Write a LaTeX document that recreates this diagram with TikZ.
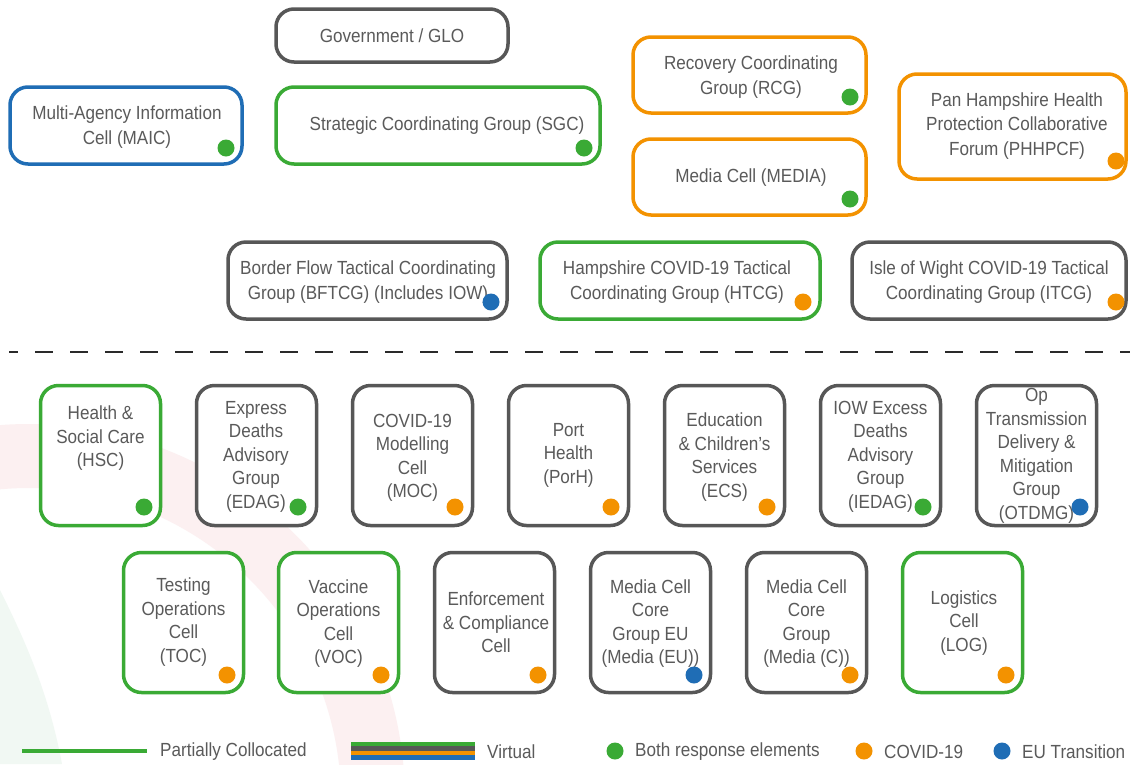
\documentclass[tikz,border=0pt]{standalone}
\usepackage{fontspec}
\setmainfont{Liberation Sans}[FakeStretch=0.9]
\definecolor{cgray}{HTML}{575757}
\definecolor{ctext}{HTML}{5A5A5A}
\definecolor{cgreen}{HTML}{3AAA35}
\definecolor{corange}{HTML}{F39200}
\definecolor{cblue}{HTML}{1F6DB5}
\definecolor{bgpink}{HTML}{FCF0F1}
\definecolor{bggreen}{HTML}{F1F8F3}
\definecolor{cdash}{HTML}{2A2A2A}
\newcommand\bigtext{\fontsize{19}{24.5}\selectfont}
\newcommand\smalltext{\fontsize{19}{23.5}\selectfont}
\tikzset{
  box/.style={draw=#1, line width=3.5pt, rounded corners=18pt, fill=white, inner sep=0pt},
  wide/.style={minimum width=#1, minimum height=77pt},
  cell/.style={minimum width=120pt, minimum height=140pt},
  toptxt/.style={text=ctext, align=center, font=\bigtext, inner sep=0pt},
  celltxt/.style={text=ctext, align=center, font=\smalltext, inner sep=0pt},
  legtxt/.style={text=ctext, font=\bigtext, inner sep=0pt, anchor=west},
  dot/.style={circle, fill=#1, minimum size=17pt, inner sep=0pt},
  divider/.style={draw=cdash, line width=2pt, dash pattern=on 18pt off 17pt, dash phase=9pt},
}
\begin{document}
\begin{tikzpicture}[x=1pt, y=-1pt]
\path[use as bounding box, fill=white] (0,0) rectangle (1130,764);

% faint background arcs
\begin{scope}
  \clip (0,0) rectangle (1130,764);
  \fill[bgpink, even odd rule] (29,800) circle[radius=376pt] (29,800) circle[radius=312pt];
  \fill[bggreen] (0,590) .. controls (30,650) and (50,700) .. (62,764) -- (0,764) -- cycle;
\end{scope}

% ---- strategic level ----
\node[box=cgray, minimum width=232pt, minimum height=53pt] (gov) at (392,35.5) {};
\node[toptxt] (govt) at (392,36) {Government / GLO};

\node[box=cblue, wide=232pt] (maic) at (126,125.5) {};
\node[toptxt] (maict) at (127,127) {Multi-Agency Information\\Cell (MAIC)};
\node[dot=cgreen] (maicd) at (226,148) {};

\node[box=cgreen, wide=324pt] (sgc) at (438,125.5) {};
\node[toptxt] (sgct) at (447,126) {Strategic Coordinating Group (SGC)};
\node[dot=cgreen] (sgcd) at (584,148) {};

\node[box=corange, minimum width=233pt, minimum height=76pt] (rcg) at (749.5,75) {};
\node[toptxt] (rcgt) at (751,77) {Recovery Coordinating\\Group (RCG)};
\node[dot=cgreen] (rcgd) at (850,97) {};

\node[box=corange, minimum width=233pt, minimum height=76pt] (media) at (749.5,177) {};
\node[toptxt] (mediat) at (751,178) {Media Cell (MEDIA)};
\node[dot=cgreen] (mediad) at (850,199) {};

\node[box=corange, minimum width=227pt, minimum height=105pt] (phh) at (1012.5,126.5) {};
\node[toptxt] (phht) at (1017,126) {Pan Hampshire Health\\Protection Collaborative\\Forum (PHHPCF)};
\node[dot=corange] (phhd) at (1116,161) {};

% ---- tactical level ----
\node[box=cgray, wide=279pt] (bft) at (367.5,280.5) {};
\node[toptxt] (bftt) at (368,282) {Border Flow Tactical Coordinating\\Group (BFTCG) (Includes IOW)};
\node[dot=cblue] (bftd) at (491,302) {};

\node[box=cgreen, wide=280pt] (htcg) at (680,280.5) {};
\node[toptxt] (htcgt) at (677,282) {Hampshire COVID-19 Tactical\\Coordinating Group (HTCG)};
\node[dot=corange] (htcgd) at (803,302) {};

\node[box=cgray, wide=274pt] (itcg) at (989,280.5) {};
\node[toptxt] (itcgt) at (989,282) {Isle of Wight COVID-19 Tactical\\Coordinating Group (ITCG)};
\node[dot=corange] (itcgd) at (1116,302) {};

% divider between levels
\coordinate (divl) at (9,352);
\coordinate (divr) at (1130,352);
\draw[divider] (divl) -- (divr);

% ---- cells, first row ----
\node[box=cgreen, cell] (hsc) at (100.5,455.5) {};
\node[celltxt] (hsct) at (100.5,438.5) {Health \&\\Social Care\\(HSC)};
\node[dot=cgreen] (hscd) at (144,507) {};

\node[box=cgray, cell] (edag) at (256.5,455.5) {};
\node[celltxt] (edagt) at (256,456.5) {Express\\Deaths\\Advisory\\Group\\(EDAG)};
\node[dot=cgreen] (edagd) at (298,507) {};

\node[box=cgray, cell] (moc) at (412.5,455.5) {};
\node[celltxt] (moct) at (412.5,458) {COVID-19\\Modelling\\Cell\\(MOC)};
\node[dot=corange] (mocd) at (455,507) {};

\node[box=cgray, cell] (porh) at (568.5,455.5) {};
\node[celltxt] (porht) at (568.5,455) {Port\\Health\\(PorH)};
\node[dot=corange] (porhd) at (611,507) {};

\node[box=cgray, cell] (ecs) at (724.5,455.5) {};
\node[celltxt] (ecst) at (724.5,457) {Education\\\& Children’s\\Services\\(ECS)};
\node[dot=corange] (ecsd) at (767,507) {};

\node[box=cgray, cell] (iedag) at (880.5,455.5) {};
\node[celltxt] (iedagt) at (880.5,456.5) {IOW Excess\\Deaths\\Advisory\\Group\\(IEDAG)};
\node[dot=cgreen] (iedagd) at (923,507) {};

\node[box=cgray, cell] (otdmg) at (1036.5,455.5) {};
\node[celltxt] (otdmgt) at (1036.5,456) {Op\\Transmission\\Delivery \&\\Mitigation\\Group\\(OTDMG)};
\node[dot=cblue] (otdmgd) at (1080,507) {};

% ---- cells, second row ----
\node[box=cgreen, cell] (toc) at (183.5,622.5) {};
\node[celltxt] (toct) at (183.5,622) {Testing\\Operations\\Cell\\(TOC)};
\node[dot=corange] (tocd) at (227,675) {};

\node[box=cgreen, cell] (voc) at (338.5,622.5) {};
\node[celltxt] (voct) at (338.5,623.5) {Vaccine\\Operations\\Cell\\(VOC)};
\node[dot=corange] (vocd) at (381,675) {};

\node[box=cgray, cell] (enf) at (494.5,622.5) {};
\node[celltxt] (enft) at (496,622.5) {Enforcement\\\& Compliance\\Cell};
\node[dot=corange] (enfd) at (538,675) {};

\node[box=cgray, cell] (meu) at (650.5,622.5) {};
\node[celltxt] (meut) at (650.5,623.5) {Media Cell\\Core\\Group EU\\(Media (EU))};
\node[dot=cblue] (meud) at (694,675) {};

\node[box=cgray, cell] (mc) at (806.5,622.5) {};
\node[celltxt] (mct) at (806.5,623.5) {Media Cell\\Core\\Group\\(Media (C))};
\node[dot=corange] (mcd) at (850,675) {};

\node[box=cgreen, cell] (log) at (962.5,622.5) {};
\node[celltxt] (logt) at (964,623) {Logistics\\Cell\\(LOG)};
\node[dot=corange] (logd) at (1006,675) {};

% ---- legend ----
\coordinate (pcl) at (22,751);
\coordinate (pcr) at (147,751);
\draw[cgreen, line width=4pt] (pcl) -- (pcr);
\node[legtxt] (pct) at (160,752) {Partially Collocated};

\fill[cgreen]  (351,741.5) rectangle (475,746);
\fill[cgray]   (351,746) rectangle (475,750.5);
\fill[corange] (351,750.5) rectangle (475,755);
\fill[cblue]   (351,755) rectangle (475,760);
\node[legtxt] (vt) at (487,751.5) {Virtual};

\node[dot=cgreen] (lgb) at (615,751) {};
\node[legtxt] (lgbt) at (635,752) {Both response elements};
\node[dot=corange] (lgc) at (864,751) {};
\node[legtxt] (lgct) at (884,752) {COVID-19};
\node[dot=cblue] (lge) at (1002,751) {};
\node[legtxt] (lget) at (1022,752) {EU Transition};
\end{tikzpicture}
\end{document}
